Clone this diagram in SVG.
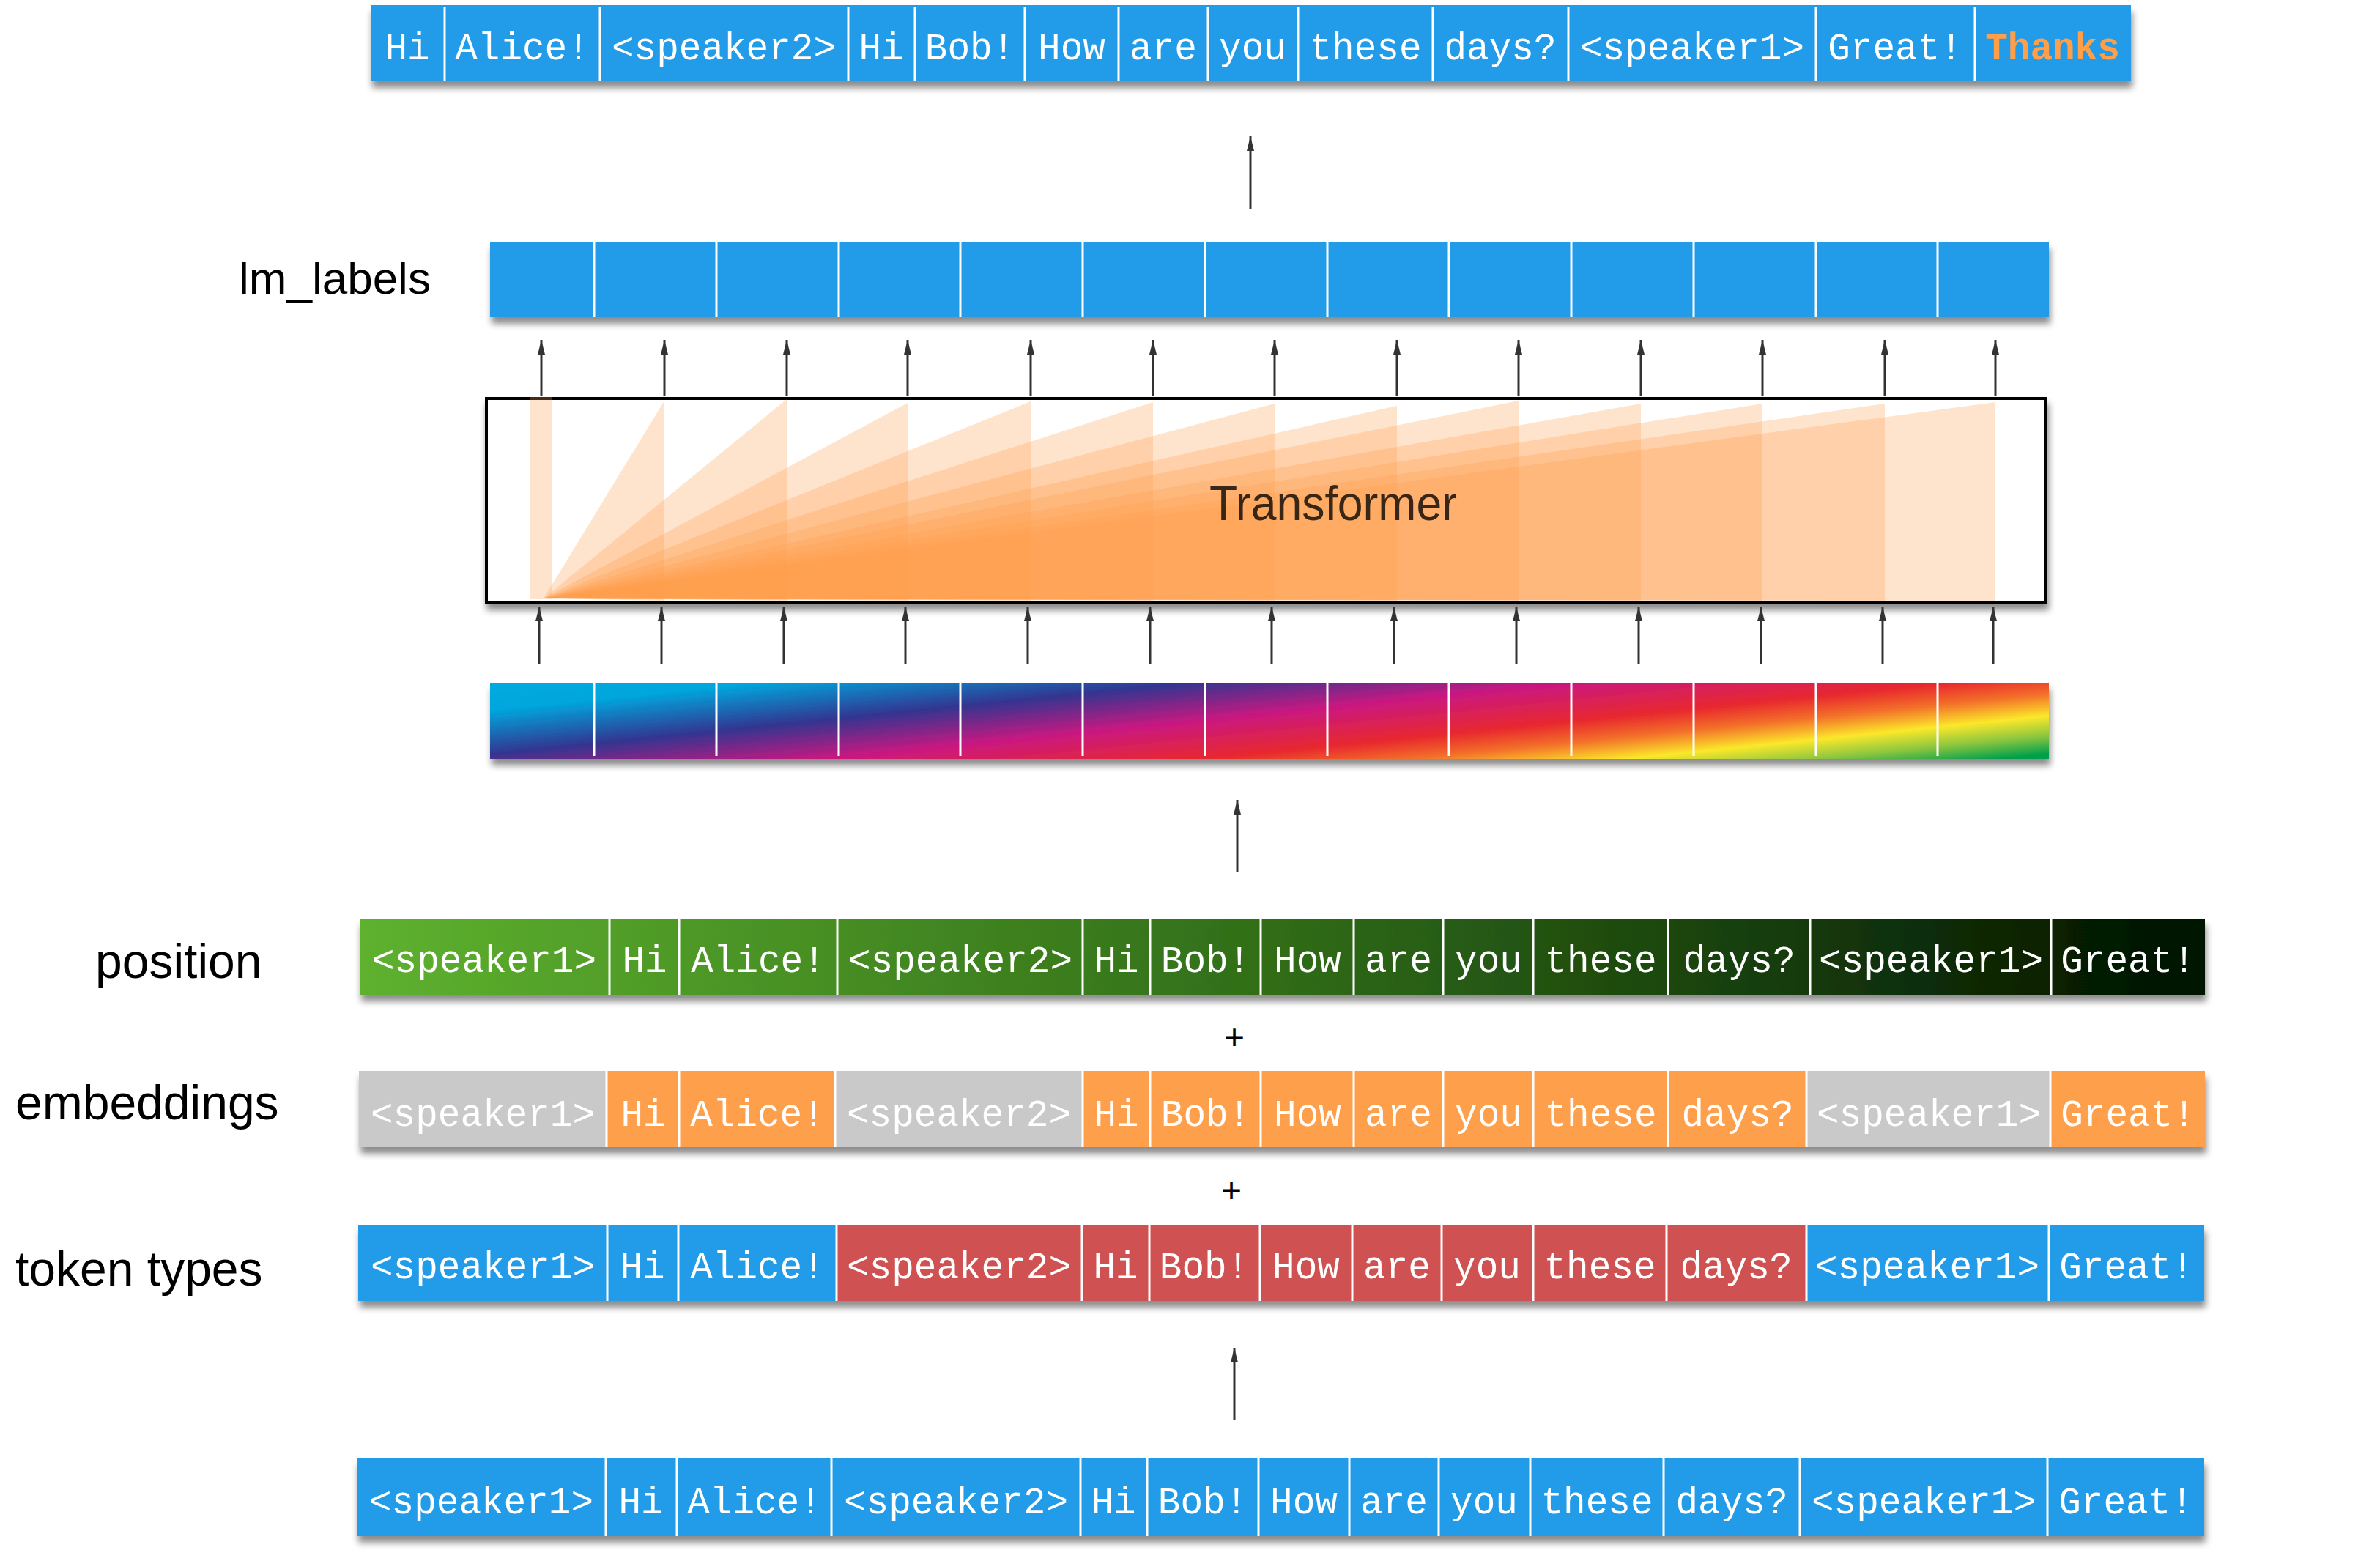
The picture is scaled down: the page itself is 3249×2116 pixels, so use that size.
<svg xmlns="http://www.w3.org/2000/svg" width="3249" height="2116" viewBox="0 0 3249 2116">
<style>
.tok{font-family:"Liberation Mono","Courier New",monospace;font-size:51px;fill:#fff;text-anchor:middle}
.lbl{font-family:"Liberation Sans",Arial,sans-serif;font-size:66px;fill:#000}
.dv{stroke:#fff;stroke-width:3}
.arr{stroke:#333;stroke-width:3;fill:none;marker-end:url(#ah)}
.fan{fill:#FF9F4A;fill-opacity:0.28}
.blue{fill:#209CE8}
.red{fill:#CF5151}
.org{fill:#FE9F4B}
.gry{fill:#C9C9C9}
</style>
<defs>
<filter id="sh" x="-3%" y="-30%" width="106%" height="180%">
<feDropShadow dx="2" dy="9" stdDeviation="5" flood-color="#000" flood-opacity="0.45"/>
</filter>
<marker id="ah" viewBox="0 0 20 10" refX="20" refY="5" markerWidth="20" markerHeight="10" markerUnits="userSpaceOnUse" orient="auto">
<path d="M0,0 L20,5 L0,10 z" fill="#333"/>
</marker>
<linearGradient id="rainbow" gradientUnits="userSpaceOnUse" x1="669" y1="932" x2="701" y2="1244">
<stop offset="0" stop-color="#00AADF"/>
<stop offset="0.12" stop-color="#00A6DD"/>
<stop offset="0.31" stop-color="#333590"/>
<stop offset="0.48" stop-color="#CA1880"/>
<stop offset="0.65" stop-color="#E8292E"/>
<stop offset="0.74" stop-color="#F3702A"/>
<stop offset="0.835" stop-color="#FBE82A"/>
<stop offset="0.92" stop-color="#8CC63F"/>
<stop offset="1" stop-color="#00A04B"/>
</linearGradient>
<linearGradient id="green" x1="0" y1="0" x2="1" y2="0">
<stop offset="0" stop-color="#5EB12F"/>
<stop offset="0.5" stop-color="#306C18"/>
<stop offset="1" stop-color="#001200"/>
</linearGradient>
</defs>
<rect width="3249" height="2116" fill="#fff"/>

<!-- output row -->
<g id="output-row">
<rect x="506" y="7" width="2403" height="104" class="blue" filter="url(#sh)"/>
<g class="tok">
<text x="556" y="81">Hi</text>
<text x="713" y="81">Alice!</text>
<text x="988" y="81">&lt;speaker2&gt;</text>
<text x="1203" y="81">Hi</text>
<text x="1324" y="81">Bob!</text>
<text x="1463" y="81">How</text>
<text x="1588" y="81">are</text>
<text x="1710" y="81">you</text>
<text x="1864" y="81">these</text>
<text x="2048" y="81">days?</text>
<text x="2310" y="81">&lt;speaker1&gt;</text>
<text x="2587" y="81">Great!</text>
<text x="2802" y="81" style="font-weight:bold;fill:#FF9F4A">Thanks</text>
</g>
<g class="dv">
<line x1="607" y1="9" x2="607" y2="111"/><line x1="819" y1="9" x2="819" y2="111"/><line x1="1158" y1="9" x2="1158" y2="111"/><line x1="1249" y1="9" x2="1249" y2="111"/><line x1="1399" y1="9" x2="1399" y2="111"/><line x1="1527" y1="9" x2="1527" y2="111"/><line x1="1649" y1="9" x2="1649" y2="111"/><line x1="1772" y1="9" x2="1772" y2="111"/><line x1="1956" y1="9" x2="1956" y2="111"/><line x1="2141" y1="9" x2="2141" y2="111"/><line x1="2479" y1="9" x2="2479" y2="111"/><line x1="2696" y1="9" x2="2696" y2="111"/>
</g>
</g>

<!-- lm_labels row -->
<g id="lm-labels">
<text class="lbl" x="326" y="401" style="font-size:62px">lm_labels</text>
<rect x="669" y="330" width="2128" height="103" class="blue" filter="url(#sh)"/>
<g class="dv">
<line x1="811" y1="330" x2="811" y2="433"/><line x1="978" y1="330" x2="978" y2="433"/><line x1="1145" y1="330" x2="1145" y2="433"/><line x1="1311" y1="330" x2="1311" y2="433"/><line x1="1478" y1="330" x2="1478" y2="433"/><line x1="1645" y1="330" x2="1645" y2="433"/><line x1="1812" y1="330" x2="1812" y2="433"/><line x1="1978" y1="330" x2="1978" y2="433"/><line x1="2145" y1="330" x2="2145" y2="433"/><line x1="2312" y1="330" x2="2312" y2="433"/><line x1="2479" y1="330" x2="2479" y2="433"/><line x1="2645" y1="330" x2="2645" y2="433"/>
</g>
</g>

<!-- transformer -->
<g id="transformer">
<rect x="664" y="544" width="2129" height="278" fill="#fff" stroke="#000" stroke-width="4" filter="url(#sh)"/>
<rect x="724" y="542" width="29" height="276" class="fan"/>
<polygon class="fan" points="742,817 907,547 907,820"/>
<polygon class="fan" points="742,817 1074,545 1074,820"/>
<polygon class="fan" points="742,817 1239,550 1239,820"/>
<polygon class="fan" points="742,817 1407,548 1407,820"/>
<polygon class="fan" points="742,817 1574,549 1574,820"/>
<polygon class="fan" points="742,817 1740,551 1740,820"/>
<polygon class="fan" points="742,817 1907,554 1907,820"/>
<polygon class="fan" points="742,817 2073,547 2073,820"/>
<polygon class="fan" points="742,817 2240,551 2240,820"/>
<polygon class="fan" points="742,817 2406,551 2406,820"/>
<polygon class="fan" points="742,817 2573,551 2573,820"/>
<polygon class="fan" points="742,817 2724,549 2724,820"/>
<text class="lbl" x="1651" y="710" style="font-size:66px;fill-opacity:0.78" textLength="338" lengthAdjust="spacingAndGlyphs">Transformer</text>
</g>

<!-- positional encoding row -->
<g id="positional-vectors">
<rect x="669" y="932" width="2128" height="104" fill="url(#rainbow)" filter="url(#sh)"/>
<g class="dv">
<line x1="811" y1="932" x2="811" y2="1032"/><line x1="978" y1="932" x2="978" y2="1032"/><line x1="1145" y1="932" x2="1145" y2="1032"/><line x1="1311" y1="932" x2="1311" y2="1032"/><line x1="1478" y1="932" x2="1478" y2="1032"/><line x1="1645" y1="932" x2="1645" y2="1032"/><line x1="1812" y1="932" x2="1812" y2="1032"/><line x1="1978" y1="932" x2="1978" y2="1032"/><line x1="2145" y1="932" x2="2145" y2="1032"/><line x1="2312" y1="932" x2="2312" y2="1032"/><line x1="2479" y1="932" x2="2479" y2="1032"/><line x1="2645" y1="932" x2="2645" y2="1032"/>
</g>
</g>

<!-- position row -->
<g id="position-row">
<text class="lbl" x="130" y="1335">position</text>
<rect x="491" y="1254" width="2519" height="104" fill="url(#green)" filter="url(#sh)"/>
<g class="tok">
<text x="661" y="1327">&lt;speaker1&gt;</text>
<text x="880" y="1327">Hi</text>
<text x="1035" y="1327">Alice!</text>
<text x="1311" y="1327">&lt;speaker2&gt;</text>
<text x="1524" y="1327">Hi</text>
<text x="1646" y="1327">Bob!</text>
<text x="1785" y="1327">How</text>
<text x="1909" y="1327">are</text>
<text x="2032" y="1327">you</text>
<text x="2185" y="1327">these</text>
<text x="2374" y="1327">days?</text>
<text x="2636" y="1327">&lt;speaker1&gt;</text>
<text x="2905" y="1327">Great!</text>
</g>
<g class="dv">
<line x1="832" y1="1254" x2="832" y2="1358"/><line x1="927" y1="1254" x2="927" y2="1358"/><line x1="1143" y1="1254" x2="1143" y2="1358"/><line x1="1478" y1="1254" x2="1478" y2="1358"/><line x1="1570" y1="1254" x2="1570" y2="1358"/><line x1="1721" y1="1254" x2="1721" y2="1358"/><line x1="1848" y1="1254" x2="1848" y2="1358"/><line x1="1970" y1="1254" x2="1970" y2="1358"/><line x1="2093" y1="1254" x2="2093" y2="1358"/><line x1="2277" y1="1254" x2="2277" y2="1358"/><line x1="2471" y1="1254" x2="2471" y2="1358"/><line x1="2800" y1="1254" x2="2800" y2="1358"/>
</g>
</g>

<text class="lbl" x="1685" y="1432" style="font-size:48px;text-anchor:middle">+</text>

<!-- word embeddings row -->
<g id="embeddings-row">
<text class="lbl" x="21" y="1528">embeddings</text>
<rect x="490" y="1462" width="2520" height="104" class="org" filter="url(#sh)"/>
<rect x="490" y="1462" width="338" height="104" class="gry"/>
<rect x="1140" y="1462" width="338" height="104" class="gry"/>
<rect x="2466" y="1462" width="333" height="104" class="gry"/>
<g class="tok">
<text x="659" y="1537">&lt;speaker1&gt;</text>
<text x="878" y="1537">Hi</text>
<text x="1034" y="1537">Alice!</text>
<text x="1309" y="1537">&lt;speaker2&gt;</text>
<text x="1524" y="1537">Hi</text>
<text x="1646" y="1537">Bob!</text>
<text x="1785" y="1537">How</text>
<text x="1909" y="1537">are</text>
<text x="2032" y="1537">you</text>
<text x="2185" y="1537">these</text>
<text x="2372" y="1537">days?</text>
<text x="2633" y="1537">&lt;speaker1&gt;</text>
<text x="2905" y="1537">Great!</text>
</g>
<g class="dv">
<line x1="828" y1="1462" x2="828" y2="1566"/><line x1="927" y1="1462" x2="927" y2="1566"/><line x1="1140" y1="1462" x2="1140" y2="1566"/><line x1="1478" y1="1462" x2="1478" y2="1566"/><line x1="1570" y1="1462" x2="1570" y2="1566"/><line x1="1721" y1="1462" x2="1721" y2="1566"/><line x1="1848" y1="1462" x2="1848" y2="1566"/><line x1="1970" y1="1462" x2="1970" y2="1566"/><line x1="2093" y1="1462" x2="2093" y2="1566"/><line x1="2277" y1="1462" x2="2277" y2="1566"/><line x1="2466" y1="1462" x2="2466" y2="1566"/><line x1="2799" y1="1462" x2="2799" y2="1566"/>
</g>
</g>

<text class="lbl" x="1681" y="1641" style="font-size:48px;text-anchor:middle">+</text>

<!-- token types row -->
<g id="token-types-row">
<text class="lbl" x="21" y="1755">token types</text>
<rect x="489" y="1672" width="2520" height="104" class="blue" filter="url(#sh)"/>
<rect x="1142" y="1672" width="1324" height="104" class="red"/>
<g class="tok">
<text x="659" y="1745">&lt;speaker1&gt;</text>
<text x="877" y="1745">Hi</text>
<text x="1034" y="1745">Alice!</text>
<text x="1309" y="1745">&lt;speaker2&gt;</text>
<text x="1523" y="1745">Hi</text>
<text x="1644" y="1745">Bob!</text>
<text x="1783" y="1745">How</text>
<text x="1907" y="1745">are</text>
<text x="2030" y="1745">you</text>
<text x="2184" y="1745">these</text>
<text x="2370" y="1745">days?</text>
<text x="2631" y="1745">&lt;speaker1&gt;</text>
<text x="2903" y="1745">Great!</text>
</g>
<g class="dv">
<line x1="829" y1="1672" x2="829" y2="1776"/><line x1="926" y1="1672" x2="926" y2="1776"/><line x1="1142" y1="1672" x2="1142" y2="1776"/><line x1="1477" y1="1672" x2="1477" y2="1776"/><line x1="1569" y1="1672" x2="1569" y2="1776"/><line x1="1720" y1="1672" x2="1720" y2="1776"/><line x1="1846" y1="1672" x2="1846" y2="1776"/><line x1="1968" y1="1672" x2="1968" y2="1776"/><line x1="2093" y1="1672" x2="2093" y2="1776"/><line x1="2275" y1="1672" x2="2275" y2="1776"/><line x1="2466" y1="1672" x2="2466" y2="1776"/><line x1="2797" y1="1672" x2="2797" y2="1776"/>
</g>
</g>

<!-- input row -->
<g id="input-row">
<rect x="487" y="1991" width="2522" height="106" class="blue" filter="url(#sh)"/>
<g class="tok">
<text x="657" y="2066">&lt;speaker1&gt;</text>
<text x="875" y="2066">Hi</text>
<text x="1030" y="2066">Alice!</text>
<text x="1305" y="2066">&lt;speaker2&gt;</text>
<text x="1520" y="2066">Hi</text>
<text x="1642" y="2066">Bob!</text>
<text x="1780" y="2066">How</text>
<text x="1903" y="2066">are</text>
<text x="2026" y="2066">you</text>
<text x="2180" y="2066">these</text>
<text x="2364" y="2066">days?</text>
<text x="2626" y="2066">&lt;speaker1&gt;</text>
<text x="2902" y="2066">Great!</text>
</g>
<g class="dv">
<line x1="827" y1="1991" x2="827" y2="2097"/><line x1="924" y1="1991" x2="924" y2="2097"/><line x1="1135" y1="1991" x2="1135" y2="2097"/><line x1="1475" y1="1991" x2="1475" y2="2097"/><line x1="1566" y1="1991" x2="1566" y2="2097"/><line x1="1718" y1="1991" x2="1718" y2="2097"/><line x1="1842" y1="1991" x2="1842" y2="2097"/><line x1="1964" y1="1991" x2="1964" y2="2097"/><line x1="2089" y1="1991" x2="2089" y2="2097"/><line x1="2271" y1="1991" x2="2271" y2="2097"/><line x1="2457" y1="1991" x2="2457" y2="2097"/><line x1="2795" y1="1991" x2="2795" y2="2097"/>
</g>
</g>

<!-- connectors -->
<g id="connectors">
<line class="arr" x1="1707" y1="286" x2="1707" y2="186"/>
<line class="arr" x1="739" y1="541" x2="739" y2="464"/>
<line class="arr" x1="907" y1="541" x2="907" y2="464"/>
<line class="arr" x1="1074" y1="541" x2="1074" y2="464"/>
<line class="arr" x1="1239" y1="541" x2="1239" y2="464"/>
<line class="arr" x1="1407" y1="541" x2="1407" y2="464"/>
<line class="arr" x1="1574" y1="541" x2="1574" y2="464"/>
<line class="arr" x1="1740" y1="541" x2="1740" y2="464"/>
<line class="arr" x1="1907" y1="541" x2="1907" y2="464"/>
<line class="arr" x1="2073" y1="541" x2="2073" y2="464"/>
<line class="arr" x1="2240" y1="541" x2="2240" y2="464"/>
<line class="arr" x1="2406" y1="541" x2="2406" y2="464"/>
<line class="arr" x1="2573" y1="541" x2="2573" y2="464"/>
<line class="arr" x1="2724" y1="541" x2="2724" y2="464"/>
<line class="arr" x1="736" y1="906" x2="736" y2="828"/>
<line class="arr" x1="903" y1="906" x2="903" y2="828"/>
<line class="arr" x1="1070" y1="906" x2="1070" y2="828"/>
<line class="arr" x1="1236" y1="906" x2="1236" y2="828"/>
<line class="arr" x1="1403" y1="906" x2="1403" y2="828"/>
<line class="arr" x1="1570" y1="906" x2="1570" y2="828"/>
<line class="arr" x1="1736" y1="906" x2="1736" y2="828"/>
<line class="arr" x1="1903" y1="906" x2="1903" y2="828"/>
<line class="arr" x1="2070" y1="906" x2="2070" y2="828"/>
<line class="arr" x1="2237" y1="906" x2="2237" y2="828"/>
<line class="arr" x1="2404" y1="906" x2="2404" y2="828"/>
<line class="arr" x1="2570" y1="906" x2="2570" y2="828"/>
<line class="arr" x1="2721" y1="906" x2="2721" y2="828"/>
<line class="arr" x1="1689" y1="1191" x2="1689" y2="1092"/>
<line class="arr" x1="1685" y1="1939" x2="1685" y2="1840"/>
</g>
</svg>
